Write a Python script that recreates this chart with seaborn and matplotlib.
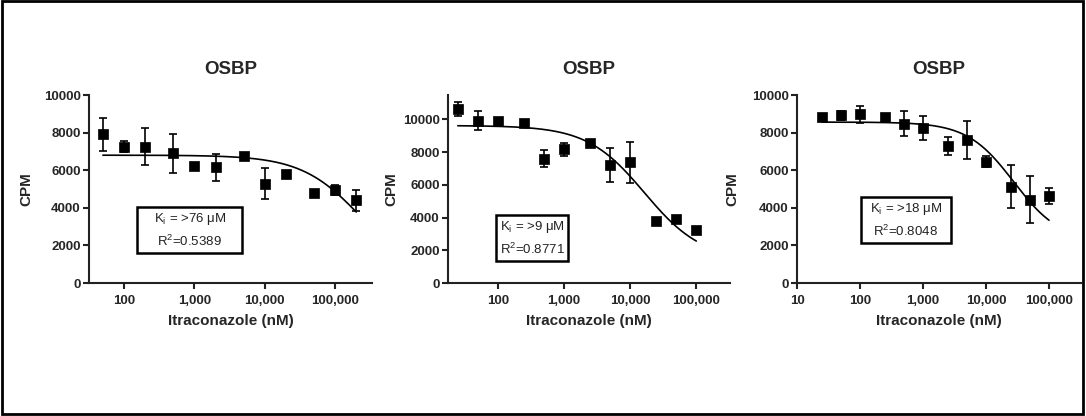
import numpy as np
import pandas as pd
import matplotlib
matplotlib.use("Agg")
import matplotlib.pyplot as plt
import seaborn as sns
from matplotlib.ticker import FixedLocator, FuncFormatter, NullLocator
from matplotlib.patches import Rectangle

# ---------------- data ----------------
title = "OSBP"
x_label = "Itraconazole (nM)"
y_label = "CPM"

# panel 1
conc1 = [50, 100, 200, 500, 1000, 2000, 5000, 10000, 20000, 50000, 100000, 200000]
cpm1 = [7900, 7250, 7260, 6890, 6250, 6160, 6730, 5280, 5790, 4800, 4940, 4400]
err1 = [900, 300, 1000, 1030, 80, 720, 150, 820, 80, 80, 270, 570]
fit1 = dict(top=6800, bottom=0, log_ic50=np.log10(250000), hill=1.0)
ki1 = "K$_{\\mathrm{i}}$ = >76 \u03bcM"
r2_1 = "R$^{\\mathrm{2}}$=0.5389"

# panel 2
conc2 = [25, 50, 100, 250, 500, 1000, 2500, 5000, 10000, 25000, 50000, 100000]
cpm2 = [10630, 9920, 9920, 9800, 7590, 8160, 8570, 7220, 7370, 3760, 3880, 3220]
err2 = [440, 560, 80, 150, 530, 380, 150, 1050, 1250, 80, 80, 80]
fit2 = dict(top=9620, bottom=1400, log_ic50=np.log10(16500), hill=1.0)
ki2 = "K$_{\\mathrm{i}}$ = >9 \u03bcM"
r2_2 = "R$^{\\mathrm{2}}$=0.8771"

# panel 3
conc3 = [25, 50, 100, 250, 500, 1000, 2500, 5000, 10000, 25000, 50000, 100000]
cpm3 = [8810, 8920, 8970, 8810, 8480, 8250, 7310, 7610, 6460, 5130, 4440, 4620]
err3 = [150, 250, 450, 150, 680, 630, 480, 1020, 300, 1150, 1250, 420]
fit3 = dict(top=8560, bottom=2200, log_ic50=4.44, hill=1.18)
ki3 = "K$_{\\mathrm{i}}$ = >18 \u03bcM"
r2_3 = "R$^{\\mathrm{2}}$=0.8048"

xticks1 = [100, 1000, 10000, 100000]
xticks2 = [100, 1000, 10000, 100000]
xticks3 = [10, 100, 1000, 10000, 100000]
yticks = [0, 2000, 4000, 6000, 8000, 10000]

# ---------------- style ----------------
sns.set_theme(style="ticks")
plt.rcParams["font.family"] = ["Liberation Sans", "DejaVu Sans"]
plt.rcParams["mathtext.fontset"] = "custom"
plt.rcParams["mathtext.rm"] = "Liberation Sans"
plt.rcParams["mathtext.it"] = "Liberation Sans:italic"
plt.rcParams["mathtext.bf"] = "Liberation Sans:bold"

fig = plt.figure(figsize=(10.86, 4.16), dpi=100)
fig.patch.set_facecolor("white")

# box: (x0, y0, x1, y1) in axes fraction
panels = [
    dict(conc=conc1, cpm=cpm1, err=err1, fit=fit1, ki=ki1, r2=r2_1, xticks=xticks1,
         pos=[0.0820, 0.3197, 0.2606, 0.4519], xlim=(10 ** 1.502, 10 ** 5.526), ylim=(0, 10000),
         box=(0.170, 0.160, 0.541, 0.404), ylab_x=-0.198),
    dict(conc=conc2, cpm=cpm2, err=err2, fit=fit2, ki=ki2, r2=r2_2, xticks=xticks2,
         pos=[0.4125, 0.3197, 0.2597, 0.4519], xlim=(10 ** 1.249, 10 ** 5.509), ylim=(0, 11485),
         box=(0.170, 0.117, 0.426, 0.362), ylab_x=-0.177),
    dict(conc=conc3, cpm=cpm3, err=err3, fit=fit3, ki=ki3, r2=r2_3, xticks=xticks3,
         pos=[0.7339, 0.3197, 0.2615, 0.4519], xlim=(10 ** 1.0, 10 ** 5.508), ylim=(0, 10000),
         box=(0.225, 0.213, 0.542, 0.457), ylab_x=-0.204),
]


def logistic(x, top, bottom, log_ic50, hill):
    return bottom + (top - bottom) / (1 + 10 ** ((np.log10(x) - log_ic50) * hill))


for p in panels:
    ax = fig.add_axes(p["pos"])
    df = pd.DataFrame({"conc": p["conc"], "cpm": p["cpm"], "err": p["err"]})
    xs = np.logspace(np.log10(min(p["conc"])), np.log10(max(p["conc"])), 300)
    curve = pd.DataFrame({"conc": xs, "cpm": logistic(xs, **p["fit"])})
    ax.set_xscale("log")
    sns.lineplot(data=curve, x="conc", y="cpm", ax=ax, color="black", linewidth=1.2, zorder=2)
    ax.errorbar(df["conc"], df["cpm"], yerr=df["err"], fmt="none", ecolor="black",
                elinewidth=1.2, capsize=2.7, capthick=1.2, zorder=3)
    sns.scatterplot(data=df, x="conc", y="cpm", ax=ax, marker="s", s=42, color="black",
                    edgecolor="black", linewidth=0.5, zorder=4)
    ax.set_xlim(*p["xlim"])
    ax.set_ylim(*p["ylim"])
    ax.xaxis.set_major_locator(FixedLocator(p["xticks"]))
    ax.xaxis.set_major_formatter(FuncFormatter(lambda v, pos: f"{int(round(v)):,}"))
    ax.xaxis.set_minor_locator(NullLocator())
    ax.yaxis.set_major_locator(FixedLocator(yticks))
    ax.yaxis.set_minor_locator(NullLocator())
    for s in ["top", "right"]:
        ax.spines[s].set_visible(False)
    for s in ["left", "bottom"]:
        ax.spines[s].set_linewidth(1.5)
        ax.spines[s].set_color("#222222")
    ax.tick_params(axis="both", direction="out", length=4, width=1.5, color="#222222",
                   labelsize=9.5, pad=2)
    ax.tick_params(axis="x", pad=4.5)
    for lab in ax.get_xticklabels() + ax.get_yticklabels():
        lab.set_fontweight("bold")
    ax.set_xlabel(x_label, fontsize=11, fontweight="bold", labelpad=5)
    ax.set_ylabel(y_label, fontsize=11, fontweight="bold")
    ax.yaxis.set_label_coords(p["ylab_x"], 0.5)
    ax.set_title(title, fontsize=13.5, fontweight="bold", pad=15)
    x0, y0, x1, y1 = p["box"]
    ax.add_patch(Rectangle((x0, y0), x1 - x0, y1 - y0, transform=ax.transAxes,
                           facecolor="white", edgecolor="black", linewidth=1.8,
                           clip_on=False, zorder=5))
    ax.text((x0 + x1) / 2, (y0 + y1) / 2, p["ki"] + "\n" + p["r2"], transform=ax.transAxes,
            ha="center", va="center", fontsize=9.5, linespacing=1.55, color="#222222",
            zorder=6)

fig.patches.append(Rectangle((0.0014, 0.0048), 0.9954, 0.9921, transform=fig.transFigure,
                             fill=False, edgecolor="black", linewidth=2.0, zorder=10))

fig.savefig("out.png", dpi=100, facecolor="white")
